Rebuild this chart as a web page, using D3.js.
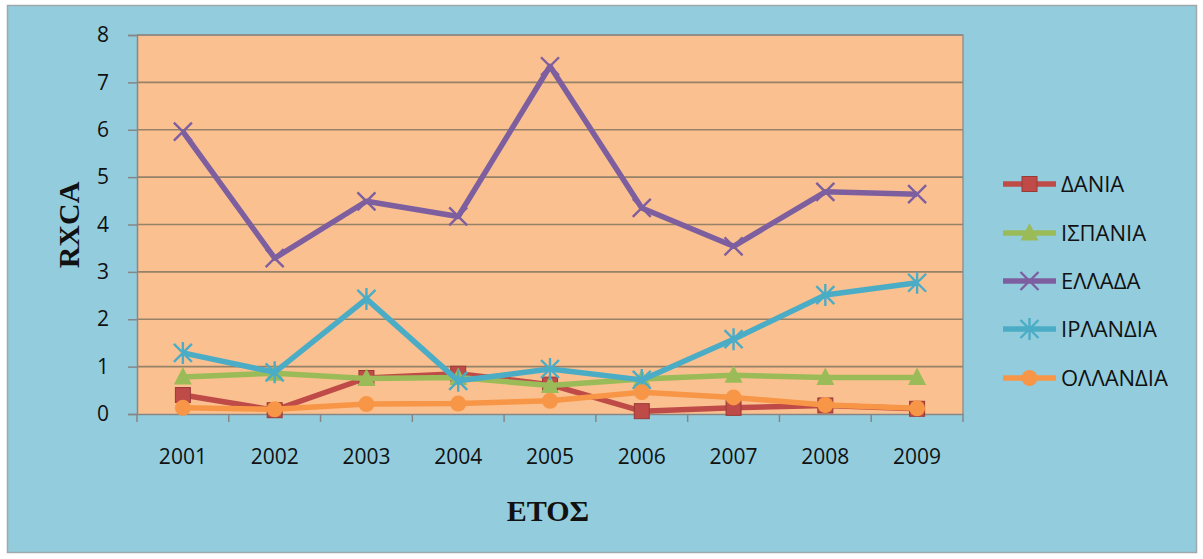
<!DOCTYPE html>
<html><head><meta charset="utf-8">
<script src="https://cdn.jsdelivr.net/npm/d3@7"></script>
<style>html,body{margin:0;padding:0;background:#fff;}svg{display:block;}</style>
</head><body>
<svg id="c" width="1203" height="559"></svg>
<script>
const years = ["2001","2002","2003","2004","2005","2006","2007","2008","2009"];
const yTicks = [0,1,2,3,4,5,6,7,8];
const seriesNames = ["ΔΑΝΙΑ","ΙΣΠΑΝΙΑ","ΕΛΛΑΔΑ","ΙΡΛΑΝΔΙΑ","ΟΛΛΑΝΔΙΑ"];
const dania    = [0.40,0.08,0.76,0.85,0.62,0.06,0.13,0.18,0.11];
const ispania  = [0.78,0.86,0.75,0.77,0.60,0.74,0.82,0.77,0.77];
const ellada   = [5.96,3.29,4.49,4.17,7.34,4.35,3.54,4.69,4.64];
const irlandia = [1.29,0.88,2.43,0.70,0.95,0.72,1.58,2.51,2.77];
const ollandia = [0.13,0.10,0.21,0.22,0.28,0.46,0.35,0.19,0.12];
const seriesColors = ["#BE4B48","#9BBB59","#7D5FA0","#4BACC6","#F79646"];
const seriesMarkers = ["square","triangle","x","star","circle"];

const seriesValues = [dania, ispania, ellada, irlandia, ollandia];
const svg = d3.select("#c");

svg.append("rect").attr("x",7.5).attr("y",5.5).attr("width",1189).attr("height",547)
  .attr("fill","#93CDDD").attr("stroke","#9FA8AC").attr("stroke-width",1.5);

const L=137, R=963, T=35, B=414;
const x = d3.scaleBand().domain(years).range([L,R]);
const y = d3.scaleLinear().domain([0,8]).range([B,T]);

svg.append("rect").attr("x",L).attr("y",T).attr("width",R-L).attr("height",B-T).attr("fill","#FBC08F");

svg.append("g").selectAll("line").data(yTicks.filter(d=>d>0)).join("line")
  .attr("x1",L).attr("x2",R).attr("y1",d=>y(d)).attr("y2",d=>y(d))
  .attr("stroke","#958268").attr("stroke-width",1.6);
svg.append("path").attr("d",`M${L},${T}H${R}V${B}`).attr("fill","none").attr("stroke","#8C8C8C").attr("stroke-width",1.3);

const yAxis = svg.append("g").attr("transform",`translate(${L},0)`)
  .call(d3.axisLeft(y).tickValues(yTicks).tickSize(9).tickPadding(25));
yAxis.select(".domain").attr("stroke","#868686").attr("stroke-width",1.5);
yAxis.selectAll(".tick line").attr("stroke","#868686").attr("stroke-width",1.5);
yAxis.selectAll("text").attr("text-anchor","middle")
  .attr("font-family","'Open Sans'").attr("font-size",21).attr("fill","#111");

const xAxis = svg.append("g").attr("transform",`translate(0,${B})`)
  .call(d3.axisBottom(x).tickSize(0).tickPadding(35));
xAxis.select(".domain").attr("stroke","#868686").attr("stroke-width",1.5);
xAxis.selectAll("text").attr("font-family","'Open Sans'").attr("font-size",21).attr("fill","#111");
const bounds = years.map(d=>x(d)).concat([R]);
svg.append("g").selectAll("line").data(bounds).join("line")
  .attr("x1",d=>d).attr("x2",d=>d).attr("y1",B).attr("y2",B+8)
  .attr("stroke","#868686").attr("stroke-width",1.5);

svg.append("text").attr("transform","translate(79,225) rotate(-90)").attr("text-anchor","middle")
  .attr("font-family","'Liberation Serif'").attr("font-weight","bold").attr("font-size",30).attr("fill","#111").text("RXCA");
svg.append("text").attr("x",548).attr("y",521).attr("text-anchor","middle")
  .attr("font-family","'Liberation Serif'").attr("font-weight","bold").attr("font-size",30).attr("fill","#111").text("ΕΤΟΣ");

function drawMarker(g, type, cx, cy, color){
  if(type==="square"){
    g.append("rect").attr("x",cx-7.5).attr("y",cy-7.5).attr("width",15).attr("height",15).attr("fill",color).attr("stroke","#9A3A37").attr("stroke-width",1);
  } else if(type==="triangle"){
    g.append("path").attr("d",`M${cx},${cy-10}L${cx+9},${cy+7.5}L${cx-9},${cy+7.5}Z`).attr("fill",color);
  } else if(type==="circle"){
    g.append("circle").attr("cx",cx).attr("cy",cy).attr("r",8).attr("fill",color);
  } else if(type==="x"){
    g.append("path").attr("d",`M${cx-9},${cy-9}L${cx+9},${cy+9}M${cx-9},${cy+9}L${cx+9},${cy-9}`).attr("stroke",color).attr("stroke-width",2.4);
  } else if(type==="star"){
    g.append("path").attr("d",`M${cx-9},${cy-9}L${cx+9},${cy+9}M${cx-9},${cy+9}L${cx+9},${cy-9}M${cx},${cy-11}V${cy+11}`).attr("stroke",color).attr("stroke-width",2.4);
  }
}

const line = d3.line().x((d,i)=>x(years[i])+x.bandwidth()/2).y(d=>y(d));
seriesValues.forEach((vals,si)=>{
  const g = svg.append("g");
  g.append("path").attr("d",line(vals)).attr("fill","none").attr("stroke",seriesColors[si])
    .attr("stroke-width",5.5).attr("stroke-linejoin","round");
  vals.forEach((v,i)=>drawMarker(g, seriesMarkers[si], x(years[i])+x.bandwidth()/2, y(v), seriesColors[si]));
});

const legY = [184,233,281,329,378];
seriesNames.forEach((n,i)=>{
  const g = svg.append("g");
  g.append("line").attr("x1",1003).attr("x2",1056).attr("y1",legY[i]).attr("y2",legY[i])
    .attr("stroke",seriesColors[i]).attr("stroke-width",5.5);
  drawMarker(g, seriesMarkers[i], 1029.5, legY[i], seriesColors[i]);
  g.append("text").attr("x",1061).attr("y",legY[i]).attr("dy","0.36em")
    .attr("font-family","'Open Sans'").attr("font-size",22).attr("fill","#111").text(n);
});
</script>
</body></html>
